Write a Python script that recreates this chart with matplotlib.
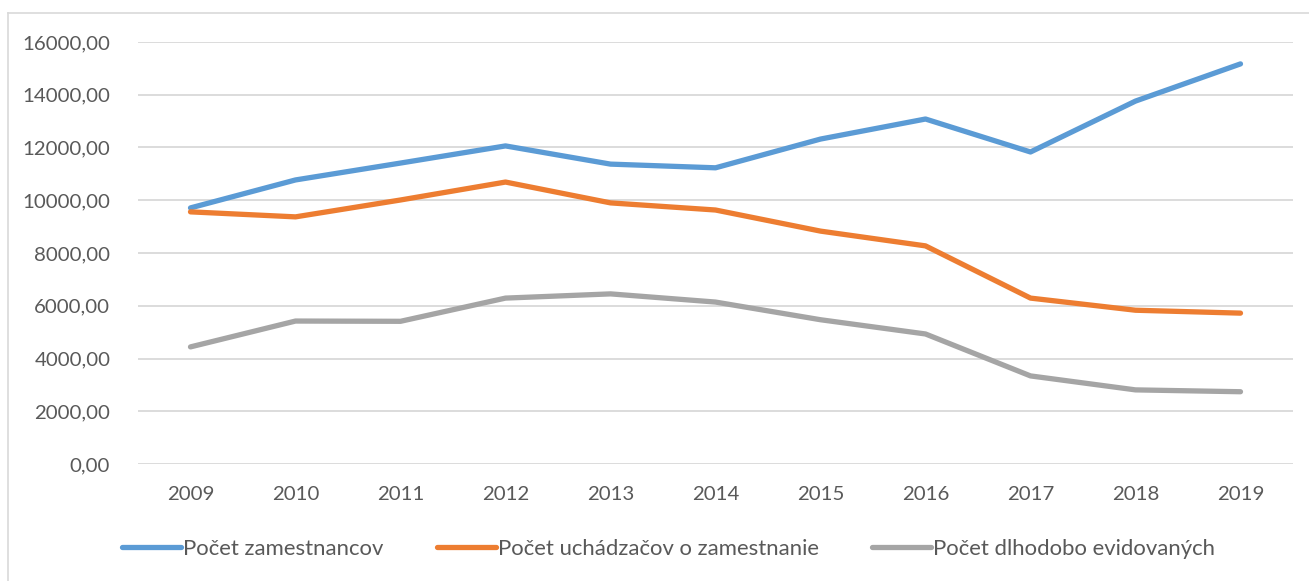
import matplotlib
matplotlib.use("Agg")
import matplotlib.pyplot as plt
from matplotlib.lines import Line2D

years = ["2009", "2010", "2011", "2012", "2013", "2014", "2015", "2016", "2017", "2018", "2019"]
zamestnanci = [9710, 10770, 11410, 12060, 11370, 11230, 12320, 13080, 11830, 13760, 15170]
uchadzaci = [9560, 9370, 10010, 10690, 9900, 9630, 8830, 8270, 6290, 5830, 5720]
dlhodobo = [4440, 5420, 5410, 6290, 6450, 6140, 5470, 4930, 3340, 2810, 2740]
labels = ["Počet zamestnancov", "Počet uchádzačov o zamestnanie", "Počet dlhodobo evidovaných"]
colors = ["#5B9BD5", "#ED7D31", "#A5A5A5"]
yticks = [0, 2000, 4000, 6000, 8000, 10000, 12000, 14000, 16000]

plt.rcParams['font.family'] = ['Lato', 'DejaVu Sans']

W, H = 1309, 581
fig = plt.figure(figsize=(W / 100, H / 100), dpi=100)
ax = fig.add_axes([138 / W, 1 - 464 / H, (1293 - 138) / W, (464 - 42) / H])

x = list(range(len(years)))
for series, lab, col in zip([zamestnanci, uchadzaci, dlhodobo], labels, colors):
    ax.plot(x, series, color=col, lw=3.8, solid_capstyle='round', solid_joinstyle='round', label=lab)

ax.set_xlim(-0.5, len(years) - 0.5)
ax.set_ylim(0, 16000)
ax.set_yticks(yticks)
ax.set_yticklabels([f"{v},00" for v in yticks])
ax.set_xticks(x)
ax.set_xticklabels(years)
ax.grid(axis='y', color='#D9D9D9', lw=1.3)
ax.set_axisbelow(True)
for s in ax.spines.values():
    s.set_visible(False)
ax.tick_params(axis='both', length=0, labelsize=14.7, labelcolor='#595959')
ax.tick_params(axis='y', pad=20)
ax.tick_params(axis='x', pad=16)

handles = [Line2D([0], [0], color=c, lw=3.8, solid_capstyle='round') for c in colors]
fig.legend(handles, labels, loc='center', bbox_to_anchor=(0.5107, 1 - 549 / H), ncol=3,
           frameon=False, fontsize=15.9, labelcolor='#595959', handlelength=2.67,
           handletextpad=0.1, columnspacing=2.4)

# outer chart border
fig.add_artist(Line2D([8 / W, 1.0], [1 - 13 / H, 1 - 13 / H], transform=fig.transFigure, color='#D9D9D9', lw=1.2))
fig.add_artist(Line2D([8 / W, 8 / W], [0, 1 - 13 / H], transform=fig.transFigure, color='#D9D9D9', lw=1.2))

fig.savefig("out.png", dpi=100)
